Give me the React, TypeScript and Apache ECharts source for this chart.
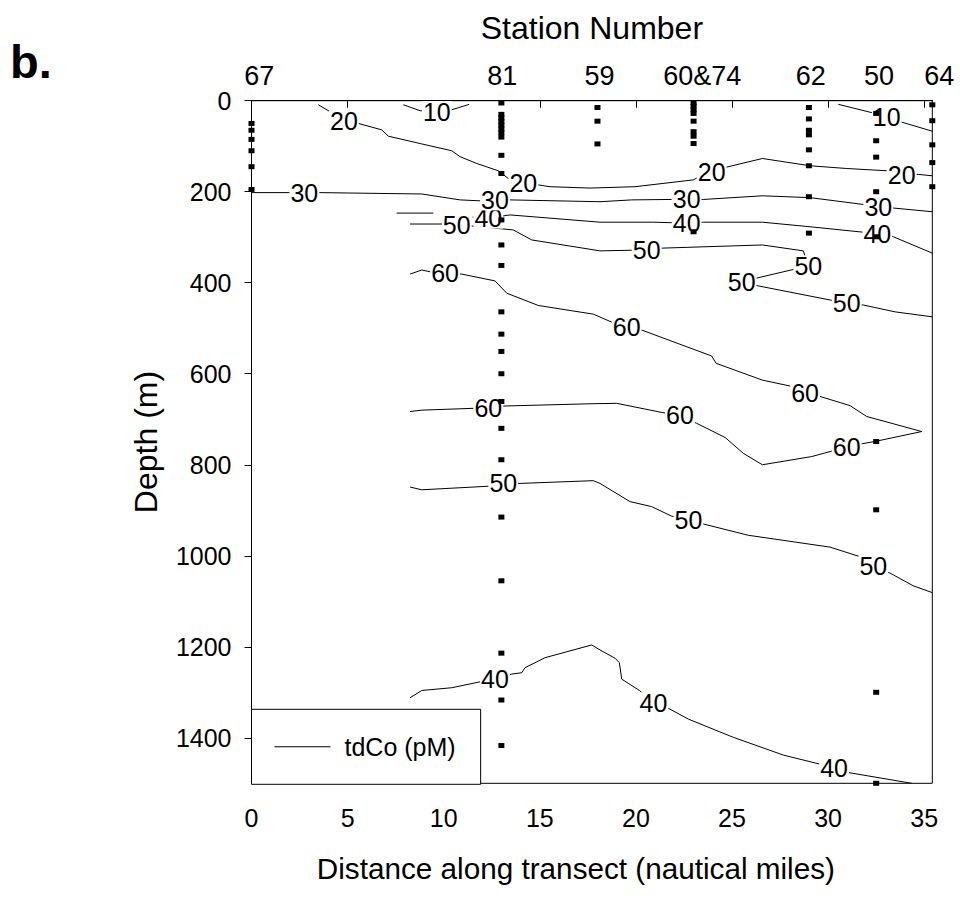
import React, { useEffect, useRef } from "react";
import * as echarts from "echarts";

const FONT = '"Liberation Sans", Arial, Helvetica, sans-serif';
const X_MAX = 35.42;

// Station names along top axis and where their labels sit (nautical miles)
const stationNames = ["67", "81", "59", "60&74", "62", "50", "64"];
const stationLabelX = [0.4, 13.05, 18.1, 23.45, 29.1, 32.65, 35.42];

// Station positions (nautical miles) and sample depths (m)
const stationX = [0, 13, 18, 23, 29, 32.5, 35.42];
const sampleDepths = [
  [50, 65, 85, 110, 145, 195],
  [5, 30, 38, 46, 54, 62, 70, 80, 120, 160, 262, 317, 362, 464, 513, 551, 600, 661, 720, 789, 915, 1055, 1214, 1317, 1417],
  [15, 45, 95],
  [5, 12, 20, 28, 45, 68, 78, 94, 288],
  [15, 40, 65, 75, 108, 143, 211, 291],
  [28, 88, 124, 200, 299, 749, 899, 1300, 1500],
  [9, 44, 97, 136, 189],
];

// Contour polylines [distance, depth]; null = break
const contour10a = [[7.9, 9], [8.77, 22], [9.64, 24], [10.42, 20], [11.33, 8]];
const contour10b = [[30.53, 8], [32.44, 28], [33.05, 36], [33.74, 46], [35.42, 67]];
const contour20 = [
  [3.48, 9], [4.08, 24], [4.81, 44], [5.56, 50], [6.77, 64], [7.12, 78], [8.86, 95], [10.42, 110],
  [10.85, 123], [11.72, 138], [12.84, 154], [13.36, 171], [14.14, 181], [14.92, 185], [15.53, 189],
  [17.61, 192], [19.95, 189], [22.99, 174], [23.16, 170], [23.94, 156], [24.72, 146], [26.58, 127],
  [29.06, 143], [30.97, 149], [33.05, 154], [33.83, 163], [34.69, 162], [35.42, 165],
];
const contour30 = [
  [0, 202], [2.0, 202], [2.75, 203], [3.56, 202], [8.86, 205], [10.85, 218], [11.89, 220], [12.67, 218],
  [13.45, 218], [18.13, 222], [19.78, 218], [21.86, 217], [22.64, 217], [23.51, 217], [26.58, 209],
  [29.06, 213], [31.83, 228], [32.61, 233], [33.43, 236], [35.42, 244],
];
const contour40a = [
  [7.55, 247], [9.46, 247], null, [11.5, 256], [12.32, 258], [13.45, 251], [18.13, 267], [20.91, 267],
  [22.64, 269], [23.51, 267], [26.58, 267], [29.06, 277], [31.83, 289], [32.56, 293], [33.39, 299], [35.42, 335],
];
const contour50a = [
  [8.25, 271], [9.98, 271], [10.68, 273], [11.37, 275], [13.62, 284], [14.58, 306], [18.13, 330],
  [20.56, 328], [21.34, 324], [26.58, 317], [28.71, 330], [28.97, 363], [28.28, 370], [26.46, 388],
  [25.5, 398], [26.37, 407], [30.11, 438], [30.97, 445], [31.83, 449], [33.48, 464], [35.42, 475],
];
const contour60 = [
  [8.25, 381], [8.86, 372], [9.29, 376], [10.07, 379], [10.94, 381], [12.67, 396], [13.28, 423],
  [14.92, 450], [17.78, 469], [18.82, 488], [19.52, 497], [20.3, 504], [23.94, 561], [24.17, 577],
  [26.58, 614], [28.02, 627], [28.8, 643], [29.58, 650], [31.14, 670], [32.01, 694], [34.87, 727],
  [32.53, 748], [30.97, 760], [30.19, 770], [29.15, 782], [26.58, 800], [25.59, 775], [24.64, 740],
  [23.16, 709], [22.29, 691], [21.34, 685], [19.0, 665], [17.61, 666], [13.1, 671], [12.32, 676],
  [11.54, 676], [8.86, 680], [8.25, 683],
];
const contour50b = [
  [8.25, 849], [8.86, 855], [12.41, 847], [13.1, 841], [13.97, 841], [17.78, 835], [18.13, 841],
  [19.69, 881], [20.82, 892], [21.86, 913], [22.73, 922], [23.59, 931], [25.85, 955], [30.1, 981],
  [31.66, 1002], [32.35, 1023], [33.22, 1038], [34.43, 1066], [35.42, 1081],
];
const contour40b = [
  [8.25, 1312], [8.86, 1296], [10.42, 1290], [11.89, 1277], [12.67, 1271], [13.54, 1260], [14.06, 1257],
  [14.23, 1246], [15.27, 1224], [17.7, 1196], [18.13, 1207], [18.91, 1225], [19.14, 1235], [19.26, 1271],
  [20.18, 1296], [20.91, 1323], [21.77, 1337], [22.73, 1359], [25.07, 1399], [27.67, 1438], [29.58, 1458],
  [30.31, 1467], [31.14, 1477], [34.35, 1500],
];

// Contour labels [distance, depth, value]
const labels40 = [[12.32, 258, 40], [22.64, 269, 40], [32.56, 293, 40], [12.67, 1271, 40], [20.91, 1323, 40], [30.31, 1467, 40]];
const labels50 = [[10.68, 273, 50], [20.56, 328, 50], [28.97, 363, 50], [25.5, 398, 50], [30.97, 445, 50], [13.1, 841, 50], [22.73, 922, 50], [32.35, 1023, 50]];
const labels60 = [[10.07, 379, 60], [19.52, 497, 60], [28.8, 643, 60], [30.97, 760, 60], [22.29, 691, 60], [12.32, 676, 60]];
const labels10 = [[9.64, 24, 10], [33.05, 36, 10]];
const labels20 = [[4.81, 44, 20], [14.14, 181, 20], [23.94, 156, 20], [33.83, 163, 20]];
const labels30 = [[2.75, 203, 30], [12.67, 218, 30], [22.64, 217, 30], [32.61, 233, 30]];

const SERIES_NAME = "tdCo (pM)";

export default function App() {
  const ref = useRef<HTMLDivElement>(null);
  useEffect(() => {
    if (!ref.current) return;
    const chart = echarts.init(ref.current, null, { renderer: "svg" });
    const contours = [contour10a, contour10b, contour20, contour30, contour40a, contour50a, contour60, contour50b, contour40b];
    const lineSeries = contours.map((c) => ({
      type: "line",
      name: SERIES_NAME,
      xAxisIndex: 0,
      yAxisIndex: 0,
      data: c.map((p) => (p === null ? ["-", "-"] : p)),
      symbol: "none",
      showSymbol: false,
      connectNulls: false,
      smooth: false,
      silent: true,
      lineStyle: { color: "#000", width: 1, opacity: 1 },
      itemStyle: { color: "#000", opacity: 1 },
      z: 2,
    }));
    const samples: number[][] = [];
    stationX.forEach((x, i) => sampleDepths[i].forEach((d) => samples.push([x, d])));
    const allLabels = [...labels40, ...labels50, ...labels60, ...labels10, ...labels20, ...labels30];

    const option: any = {
      animation: false,
      backgroundColor: "#fff",
      textStyle: { fontFamily: FONT },
      grid: {
        left: 251.5,
        top: 100.7,
        right: 960 - 932.3,
        bottom: 897 - 783.3,
        show: true,
        borderColor: "#000",
        borderWidth: 1,
        backgroundColor: "transparent",
      },
      graphic: [
        {
          type: "text",
          left: 10,
          top: 38,
          style: { text: "b.", fontSize: 47, fontWeight: "bold", fill: "#000", fontFamily: FONT },
        },
      ],
      legend: {
        data: [SERIES_NAME],
        left: 251.5,
        top: 709.3,
        orient: "horizontal",
        icon: "rect",
        itemWidth: 56,
        itemHeight: 1,
        padding: [25, 25, 25, 23],
        borderColor: "#000",
        borderWidth: 1,
        borderRadius: 0,
        backgroundColor: "#fff",
        selectedMode: false,
        itemStyle: { color: "#000", opacity: 1 },
        textStyle: { fontSize: 25, color: "#000", fontFamily: FONT, padding: [0, 0, 0, 9] },
      },
      xAxis: [
        {
          type: "value",
          position: "bottom",
          min: 0,
          max: X_MAX,
          interval: 5,
          axisLine: { show: true, lineStyle: { color: "#000", width: 1 } },
          axisTick: { show: true, length: 7, lineStyle: { color: "#000" } },
          axisLabel: { fontSize: 25, color: "#000", margin: 22, fontFamily: FONT, formatter: (v: number) => String(v) },
          splitLine: { show: false },
          name: "Distance along transect (nautical miles)",
          nameLocation: "middle",
          nameGap: 70,
          nameTextStyle: { fontSize: 29.7, color: "#000", fontFamily: FONT, padding: [0, 32, 0, 0] },
        },
        {
          type: "value",
          position: "top",
          min: 0,
          max: X_MAX,
          axisLine: { show: true, lineStyle: { color: "#000", width: 1 } },
          axisTick: { show: false },
          axisLabel: {
            show: true,
            customValues: stationLabelX,
            fontSize: 27,
            color: "#000",
            margin: 11,
            fontFamily: FONT,
            formatter: (v: number) => {
              const i = stationLabelX.findIndex((s) => Math.abs(s - v) < 1e-6);
              if (i < 0) return "";
              return i === stationNames.length - 1 ? "{r|" + stationNames[i] + "}" : stationNames[i];
            },
            rich: { r: { fontSize: 27, color: "#000", fontFamily: FONT, padding: [0, 0, 0, 14] } },
          },
          splitLine: { show: false },
          name: "Station Number",
          nameLocation: "middle",
          nameGap: 57,
          nameTextStyle: { fontSize: 32, color: "#000", fontFamily: FONT },
        },
      ],
      yAxis: [
        {
          type: "value",
          inverse: true,
          min: 0,
          max: 1500,
          interval: 200,
          axisLine: { show: true, lineStyle: { color: "#000", width: 1 } },
          axisTick: { show: true, length: 7, lineStyle: { color: "#000" } },
          axisLabel: {
            fontSize: 25,
            color: "#000",
            margin: 20,
            fontFamily: FONT,
            showMaxLabel: false,
            formatter: (v: number) => (v > 1400 ? "" : String(v)),
          },
          splitLine: { show: false },
          name: "Depth (m)",
          nameLocation: "middle",
          nameGap: 90,
          nameRotate: 90,
          nameTextStyle: { fontSize: 32, color: "#000", fontFamily: FONT },
        },
      ],
      series: [
        ...lineSeries,
        {
          type: "scatter",
          name: "labels",
          data: allLabels,
          symbolSize: 0,
          silent: true,
          z: 5,
          itemStyle: { opacity: 1, color: "#fff" },
          label: {
            show: true,
            position: "inside",
            formatter: (p: any) => String(p.value[2]),
            color: "#000",
            opacity: 1,
            fontSize: 25,
            lineHeight: 21,
            fontFamily: FONT,
            textBorderWidth: 0,
            backgroundColor: "#fff",
            padding: [0, 1],
          },
        },
        {
          type: "scatter",
          name: "samples",
          data: samples,
          symbol: "rect",
          symbolSize: [6, 5],
          silent: true,
          itemStyle: { color: "#000", opacity: 1 },
          z: 6,
        },
      ],
    };
    chart.setOption(option);
    return () => chart.dispose();
  }, []);
  return (
    <div
      ref={ref}
      style={{ position: "absolute", left: 0, top: 0, width: 960, height: 897 }}
    />
  );
}
